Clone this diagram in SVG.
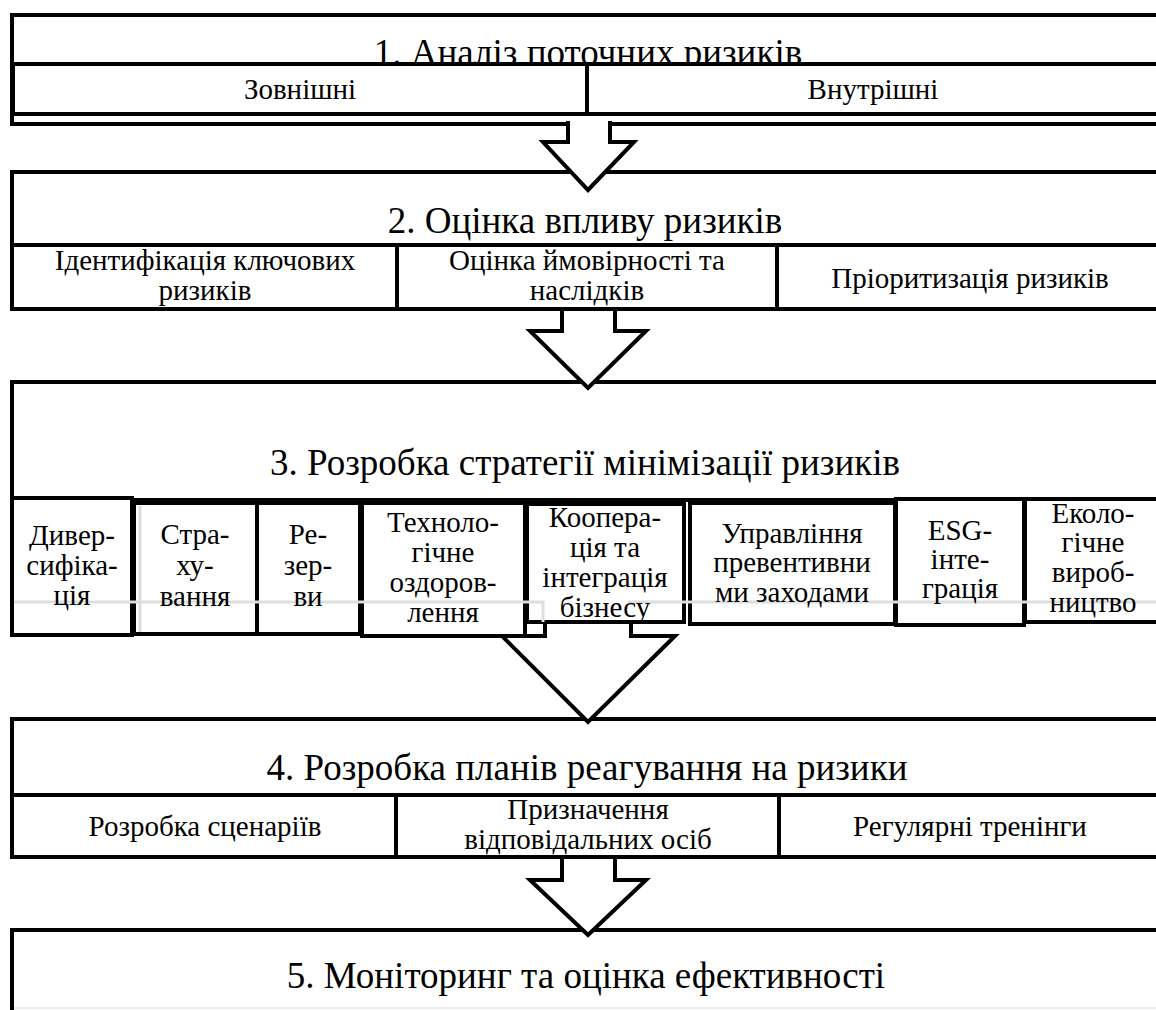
<svg xmlns="http://www.w3.org/2000/svg" width="1156" height="1010" viewBox="0 0 1156 1010">
<style>
.b{fill:#fff;stroke:#000;stroke-width:4}
.t{font-family:'Liberation Serif','Times New Roman',serif;fill:#000;text-anchor:middle}
.h{font-size:37px}
.s{font-size:29px}
.g{stroke:#dedede;stroke-width:3;fill:none}
.a{fill:#fff;stroke:#000;stroke-width:4;stroke-linejoin:miter}
</style>
<rect width="1156" height="1010" fill="#fff"/>

<g id="stage1">
<rect class="b" x="12" y="15" width="1160" height="109"/>
<text class="t h" x="588" y="65">1. Аналіз поточних ризиків</text>
<g id="s1-ext"><rect class="b" x="13" y="64" width="574" height="50"/><text class="t s" x="300" y="99">Зовнішні</text></g>
<g id="s1-int"><rect class="b" x="587" y="64" width="590" height="50"/><text class="t s" x="873" y="99">Внутрішні</text></g>
</g>

<g id="stage2">
<rect class="b" x="12" y="172" width="1160" height="137"/>
<text class="t h" x="585" y="233">2. Оцінка впливу ризиків</text>
<g id="s2-a"><rect class="b" x="12" y="245" width="385" height="64"/><text class="t s" x="205" y="270">Ідентифікація ключових</text><text class="t s" x="205" y="300">ризиків</text></g>
<g id="s2-b"><rect class="b" x="397" y="245" width="380" height="64"/><text class="t s" x="587" y="270">Оцінка ймовірності та</text><text class="t s" x="587" y="300">наслідків</text></g>
<g id="s2-c"><rect class="b" x="777" y="245" width="400" height="64"/><text class="t s" x="970" y="288">Пріоритизація ризиків</text></g>
</g>

<g id="stage3">
<rect class="b" x="12" y="382" width="1160" height="118"/>
<text class="t h" x="585" y="475">3. Розробка стратегії мінімізації ризиків</text>
<rect class="b" x="12" y="498" width="120" height="137"/>
<rect class="b" x="134" y="503" width="123" height="131"/>
<rect class="b" x="257" y="503" width="103" height="131"/>
<rect class="b" x="362" y="503" width="163" height="133"/>
<rect class="b" x="527" y="504" width="157" height="118"/>
<rect class="b" x="690" y="503" width="205" height="121"/>
<rect class="b" x="896" y="499" width="128" height="126"/>
<rect class="b" x="1025" y="499" width="150" height="123"/>
<path d="M524 636 H547" stroke="#000" stroke-width="4"/>
<path class="g" d="M14 602 H543 V622 M628 602 H1156 M140 506 V632"/>
<g id="s3-1"><text class="t s" x="72" y="545">Дивер-</text><text class="t s" x="72" y="575">сифіка-</text><text class="t s" x="72" y="605">ція</text></g>
<g id="s3-2"><text class="t s" x="195" y="544">Стра-</text><text class="t s" x="195" y="575">ху-</text><text class="t s" x="195" y="606">вання</text></g>
<g id="s3-3"><text class="t s" x="308" y="544">Ре-</text><text class="t s" x="308" y="575">зер-</text><text class="t s" x="308" y="606">ви</text></g>
<g id="s3-4"><text class="t s" x="443" y="532">Техноло-</text><text class="t s" x="443" y="562">гічне</text><text class="t s" x="443" y="592">оздоров-</text><text class="t s" x="443" y="622">лення</text></g>
<g id="s3-5"><text class="t s" x="605" y="527">Коопера-</text><text class="t s" x="605" y="557">ція та</text><text class="t s" x="605" y="587">інтеграція</text><text class="t s" x="605" y="617">бізнесу</text></g>
<g id="s3-6"><text class="t s" x="792" y="543">Управління</text><text class="t s" x="792" y="572">превентивни</text><text class="t s" x="792" y="602">ми заходами</text></g>
<g id="s3-7"><text class="t s" x="960" y="540">ESG-</text><text class="t s" x="960" y="569">інте-</text><text class="t s" x="960" y="598">грація</text></g>
<g id="s3-8"><text class="t s" x="1093" y="523">Еколо-</text><text class="t s" x="1093" y="552">гічне</text><text class="t s" x="1093" y="582">вироб-</text><text class="t s" x="1093" y="612">ництво</text></g>
</g>

<g id="stage4">
<rect class="b" x="12" y="719" width="1160" height="138"/>
<text class="t h" x="587" y="780">4. Розробка планів реагування на ризики</text>
<g id="s4-a"><rect class="b" x="12" y="795" width="384" height="62"/><text class="t s" x="205" y="836">Розробка сценаріїв</text></g>
<g id="s4-b"><rect class="b" x="396" y="795" width="383" height="62"/><text class="t s" x="588" y="819">Призначення</text><text class="t s" x="588" y="849">відповідальних осіб</text></g>
<g id="s4-c"><rect class="b" x="779" y="795" width="398" height="62"/><text class="t s" x="970" y="836">Регулярні тренінги</text></g>
</g>

<g id="stage5">
<rect class="b" x="12" y="930" width="1160" height="100"/>
<text class="t h" x="586" y="988">5. Моніторинг та оцінка ефективності</text>
<path d="M14 1008 H1156" stroke="#ececec" stroke-width="2"/>
</g>

<g id="connectors">
<path class="a" d="M568 121 V142 H543 L588 190 L634 142 H610 V121"/>
<path class="a" d="M562 311 V331 H530 L588 388 L646 331 H615 V311"/>
<path class="a" d="M545 624 V636 H502 L588 722 L675 636 H631 V624"/>
<path class="a" d="M562 859 V880 H530 L588 935 L646 880 H615 V859"/>
</g>
</svg>
